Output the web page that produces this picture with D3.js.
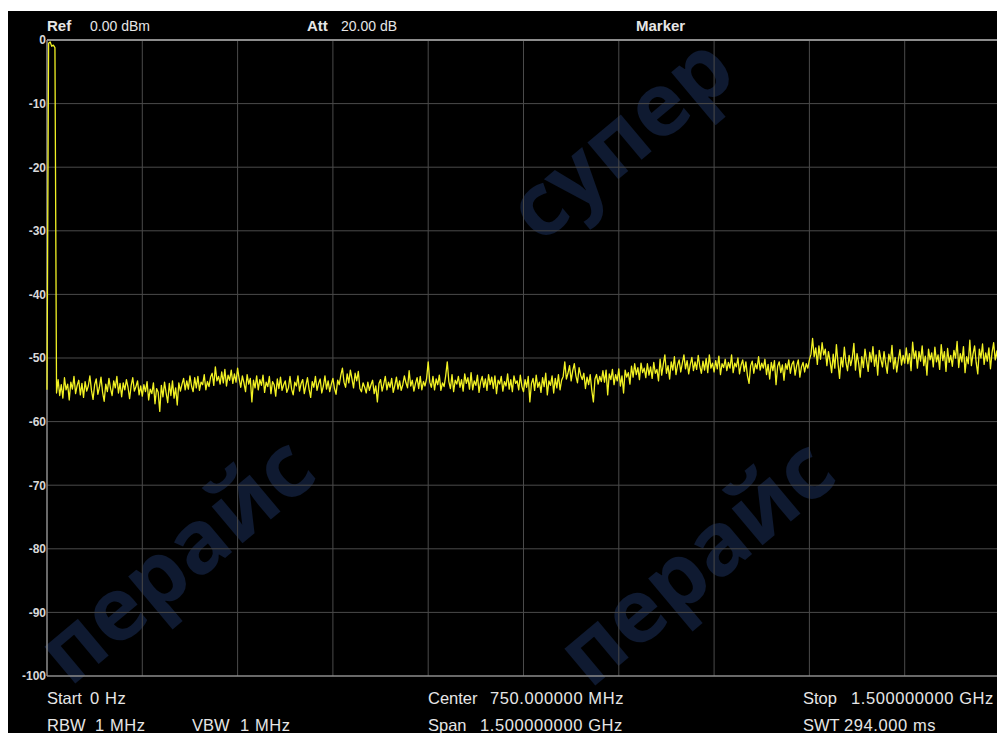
<!DOCTYPE html>
<html><head><meta charset="utf-8">
<script src="https://cdn.jsdelivr.net/npm/d3@7"></script>
<style>
html,body{margin:0;padding:0;background:#fff;}
svg{display:block;}
</style></head>
<body>
<script>
// ---- data ----
const startMHz = 0;
const stopMHz = 1500;
const stepMHz = 2.5;
const yTicks = [0, -10, -20, -30, -40, -50, -60, -70, -80, -90, -100];
const xDivisions = [0, 150, 300, 450, 600, 750, 900, 1050, 1200, 1350, 1500];
const levels = [
-55.0, -0.5, -0.3, -1.0, -0.8, -1.2, -55.5, -53.4, -55.9, -54.2,
-56.3, -53.1, -55.0, -54.1, -56.6, -53.8, -54.9, -52.9, -55.6, -54.3,
-53.5, -55.8, -54.0, -56.2, -53.7, -55.2, -54.4, -52.8, -55.1, -56.5,
-54.2, -53.3, -55.7, -54.6, -53.0, -55.4, -56.8, -54.1, -55.3, -53.2,
-54.8, -55.9, -53.6, -54.7, -52.9, -55.5, -54.0, -56.1, -53.9, -55.0,
-53.4, -54.6, -56.4, -54.3, -53.1, -55.2, -54.5, -53.6, -55.8, -54.4,
-56.0, -54.2, -55.3, -53.7, -56.6, -54.9, -55.6, -53.9, -57.2, -54.8,
-55.4, -58.4, -54.3, -56.1, -53.8, -55.5, -57.0, -54.0, -55.9, -53.6,
-56.3, -54.7, -57.4, -53.9, -55.2, -54.1, -53.2, -55.0, -53.6, -54.9,
-52.8, -54.4, -55.3, -53.1, -54.7, -52.9, -55.1, -53.8, -54.2, -52.6,
-55.0, -53.7, -54.5, -53.0, -52.4, -54.3, -51.4, -53.6, -52.9, -54.1,
-52.2, -53.9, -51.8, -54.4, -52.7, -53.5, -51.9, -54.0, -52.5, -53.8,
-51.6, -53.3, -54.6, -52.8, -53.9, -55.3, -52.6, -54.1, -53.2, -56.9,
-53.5, -54.7, -52.8, -55.0, -53.4, -54.3, -52.7, -55.4, -53.8, -54.5,
-52.9, -55.6, -53.7, -54.2, -56.0, -53.3, -54.8, -53.0, -55.1, -54.2,
-53.6, -55.4, -54.7, -52.9, -54.9, -55.8, -53.8, -54.4, -52.8, -55.2,
-54.0, -53.4, -55.6, -54.3, -53.1, -54.9, -56.2, -53.7, -54.6, -52.9,
-55.1, -54.0, -53.3, -55.5, -54.4, -52.8, -54.9, -53.6, -55.3, -54.1,
-53.2, -54.8, -55.7, -53.5, -54.2, -52.7, -51.6, -53.8, -54.6, -52.5,
-53.9, -51.9, -53.3, -54.7, -52.4, -53.6, -52.1, -54.8, -55.3, -53.9,
-54.6, -55.5, -53.8, -55.1, -54.2, -53.5, -55.6, -54.4, -56.9, -54.0,
-53.4, -55.2, -54.1, -52.9, -55.0, -53.8, -54.6, -53.2, -55.4, -54.3,
-53.0, -54.9, -53.6, -55.1, -54.2, -52.8, -53.9, -54.7, -52.0, -54.4,
-53.5, -55.2, -54.0, -53.1, -54.8, -52.9, -55.0, -53.7, -54.4, -53.2,
-50.6, -53.8, -54.6, -52.9, -55.0, -53.3, -54.2, -52.7, -55.1, -53.9,
-54.5, -52.8, -50.6, -53.7, -54.8, -52.6, -55.3, -53.5, -54.1, -52.9,
-54.6, -53.4, -55.2, -52.5, -54.0, -53.1, -54.9, -52.3, -55.0, -53.6,
-54.3, -52.7, -55.4, -53.8, -52.9, -54.6, -53.3, -55.1, -52.6, -54.2,
-53.0, -54.8, -52.8, -55.6, -53.5, -54.1, -52.9, -55.2, -53.7, -54.4,
-52.5, -54.9, -53.4, -55.3, -52.8, -54.0, -53.6, -55.0, -52.7, -54.5,
-55.3, -53.4, -54.6, -52.9, -56.9, -54.0, -53.2, -55.1, -52.7, -54.6,
-53.8, -55.4, -53.1, -54.5, -52.4, -55.8, -53.6, -54.3, -52.8, -55.5,
-53.2, -54.7, -52.6, -55.0, -53.5, -52.9, -50.6, -53.3, -52.4, -51.2,
-53.6, -52.0, -50.9, -52.8, -53.9, -51.5, -52.7, -53.4, -52.4, -54.8,
-53.0, -54.2, -52.6, -55.1, -56.9, -53.3, -52.6, -54.1, -52.9, -53.7,
-52.0, -53.8, -51.9, -55.8, -52.5, -53.4, -51.8, -54.2, -52.6, -53.6,
-51.7, -54.4, -52.8, -55.5, -51.9, -53.0, -52.3, -54.1, -51.3, -53.0,
-50.9, -52.6, -51.5, -53.4, -50.8, -52.3, -51.6, -53.1, -50.9, -52.7,
-51.4, -53.2, -50.7, -52.4, -51.8, -53.6, -50.2, -52.7, -51.0, -49.5,
-52.4, -51.2, -53.3, -50.6, -51.9, -49.8, -52.6, -51.1, -50.3, -52.2,
-50.8, -49.5, -51.7, -50.4, -52.5, -51.0, -49.9, -52.0, -50.6, -51.8,
-49.6, -51.3, -52.4, -50.5, -51.9, -50.1, -52.3, -49.5, -51.6, -50.8,
-52.2, -50.4, -51.7, -49.7, -52.6, -50.9, -51.5, -50.2, -52.0, -50.7,
-51.6, -49.5, -52.3, -50.8, -51.4, -50.0, -52.5, -51.1, -50.3, -52.1,
-50.6, -52.8, -54.0, -51.2, -50.5, -52.4, -50.9, -51.7, -49.8, -51.9,
-50.8, -51.6, -50.2, -52.6, -51.0, -53.3, -50.7, -52.0, -50.4, -54.2,
-51.3, -50.6, -52.3, -51.1, -53.5, -50.9, -51.8, -50.3, -52.4, -51.0,
-50.5, -52.7, -51.2, -50.3, -53.0, -51.4, -50.7, -52.2, -50.9, -51.6,
-50.3, -49.4, -46.9, -49.8, -48.4, -51.0, -48.1, -50.2, -47.6, -49.5,
-48.6, -51.2, -49.0, -50.5, -52.3, -49.4, -51.6, -47.9, -50.8, -53.2,
-49.9, -51.4, -48.3, -50.7, -52.0, -49.6, -51.2, -50.0, -47.7, -51.9,
-49.3, -50.8, -53.0, -49.8, -51.5, -48.6, -50.4, -52.1, -49.1, -50.6,
-48.2, -51.3, -49.5, -52.7, -48.8, -50.2, -51.4, -49.0, -50.9, -52.4,
-49.4, -50.6, -48.0, -51.7, -49.9, -52.2, -50.3, -48.7, -51.1, -49.6,
-50.8, -48.4, -50.9, -49.3, -52.0, -47.5, -50.1, -48.9, -51.6, -49.0,
-50.5, -48.1, -51.2, -49.7, -52.7, -48.6, -50.3, -49.2, -51.4, -48.3,
-50.6, -49.5, -51.8, -47.9, -50.4, -49.0, -52.1, -48.5, -50.7, -49.6,
-51.3, -48.8, -50.0, -47.4, -51.5, -49.3, -50.6, -48.2, -52.3, -49.8,
-50.9, -47.2, -51.2, -49.4, -48.1, -50.7, -52.5, -48.6, -50.0, -47.8,
-51.0, -49.2, -50.5, -48.4, -51.7, -49.1, -47.6, -50.3, -48.9, -51.4,
-49.5
];
const headerLabels = ["Ref", "Att", "Marker"];
const headerValues = ["0.00 dBm", "20.00 dB", ""];
const footerLabels = [["Start", "0 Hz"], ["Center", "750.000000 MHz"], ["Stop", "1.500000000 GHz"],
                      ["RBW", "1 MHz"], ["VBW", "1 MHz"], ["Span", "1.500000000 GHz"], ["SWT", "294.000 ms"]];
const watermarkWords = ["супер", "перайс", "перайс"];

// ---- layout ----
const W = 997, H = 733;
const plot = {left: 47, right: 1000, top: 40, bottom: 676};
const font = "'Liberation Sans', Arial, sans-serif";

const svg = d3.select("body").append("svg").attr("width", W).attr("height", H);
svg.append("rect").attr("x", 8).attr("y", 11).attr("width", W - 8).attr("height", H - 11).attr("fill", "#000");

const x = d3.scaleLinear().domain([startMHz, stopMHz]).range([plot.left, plot.right]);
const y = d3.scaleLinear().domain([-100, 0]).range([plot.bottom, plot.top]);

// faint watermark
const wmPos = [[540, 245], [70, 688], [590, 690]];
const wm = svg.append("g").attr("fill", "#0f1a31")
  .style("font-family", "'Open Sans', sans-serif").style("font-weight", "700").style("font-size", "88px");
watermarkWords.forEach((w, i) => {
  wm.append("text").attr("transform", `translate(${wmPos[i][0]},${wmPos[i][1]}) rotate(-40)`).text(w);
});

// grid
const grid = svg.append("g");
grid.selectAll("line.v").data(xDivisions.slice(1, -1)).join("line")
  .attr("x1", d => x(d)).attr("x2", d => x(d)).attr("y1", plot.top).attr("y2", plot.bottom)
  .attr("stroke", "#4a4a4a").attr("stroke-width", 1);
grid.selectAll("line.h").data(yTicks.slice(1, -1)).join("line")
  .attr("x1", plot.left).attr("x2", plot.right).attr("y1", d => y(d)).attr("y2", d => y(d))
  .attr("stroke", "#4a4a4a").attr("stroke-width", 1);
grid.append("line").attr("x1", plot.left).attr("x2", plot.right).attr("y1", plot.top).attr("y2", plot.top)
  .attr("stroke", "#8c8c8c").attr("stroke-width", 2);
grid.append("line").attr("x1", plot.left).attr("x2", plot.right).attr("y1", plot.bottom).attr("y2", plot.bottom)
  .attr("stroke", "#8c8c8c").attr("stroke-width", 1.5);
grid.append("line").attr("x1", plot.left).attr("x2", plot.left).attr("y1", plot.top).attr("y2", plot.bottom)
  .attr("stroke", "#8c8c8c").attr("stroke-width", 1.5);

// y axis labels
const yAxis = d3.axisLeft(y).tickValues(yTicks).tickSize(0).tickPadding(1).tickFormat(d => d);
const ya = svg.append("g").attr("transform", `translate(${plot.left},0)`).call(yAxis);
ya.select(".domain").remove();
ya.selectAll("text").attr("fill", "#d8d8d8").style("font-family", font)
  .style("font-size", "12px").style("font-weight", "700");

// trace
const line = d3.line().x((d, i) => x(startMHz + i * stepMHz)).y(d => y(d));
svg.append("path").datum(levels).attr("d", line).attr("fill", "none")
  .attr("stroke", "#f2f224").attr("stroke-width", 1.3).attr("stroke-linejoin", "round");

// header
const hx = [[47, 90], [307, 341], [636, 0]];
headerLabels.forEach((lab, i) => {
  svg.append("text").attr("x", hx[i][0]).attr("y", 31).text(lab)
    .attr("fill", "#e6e6e6").style("font-family", font).style("font-size", "15px").style("font-weight", "700");
  if (headerValues[i]) svg.append("text").attr("x", hx[i][1]).attr("y", 31).text(headerValues[i])
    .attr("fill", "#e6e6e6").style("font-family", font).style("font-size", "14px");
});

// footer
const fpos = [[47, 90, 704], [428, 490, 704], [803, 851, 704], [47, 95, 731], [192, 240, 731], [428, 480, 731], [803, 844, 731]];
footerLabels.forEach((p, i) => {
  const g = svg.append("g").attr("fill", "#e6e6e6").style("font-family", font).style("font-size", "16.5px");
  g.append("text").attr("x", fpos[i][0]).attr("y", fpos[i][2]).text(p[0]);
  g.append("text").attr("x", fpos[i][1]).attr("y", fpos[i][2]).text(p[1]).style("letter-spacing", "0.6px");
});
</script>
</body></html>
